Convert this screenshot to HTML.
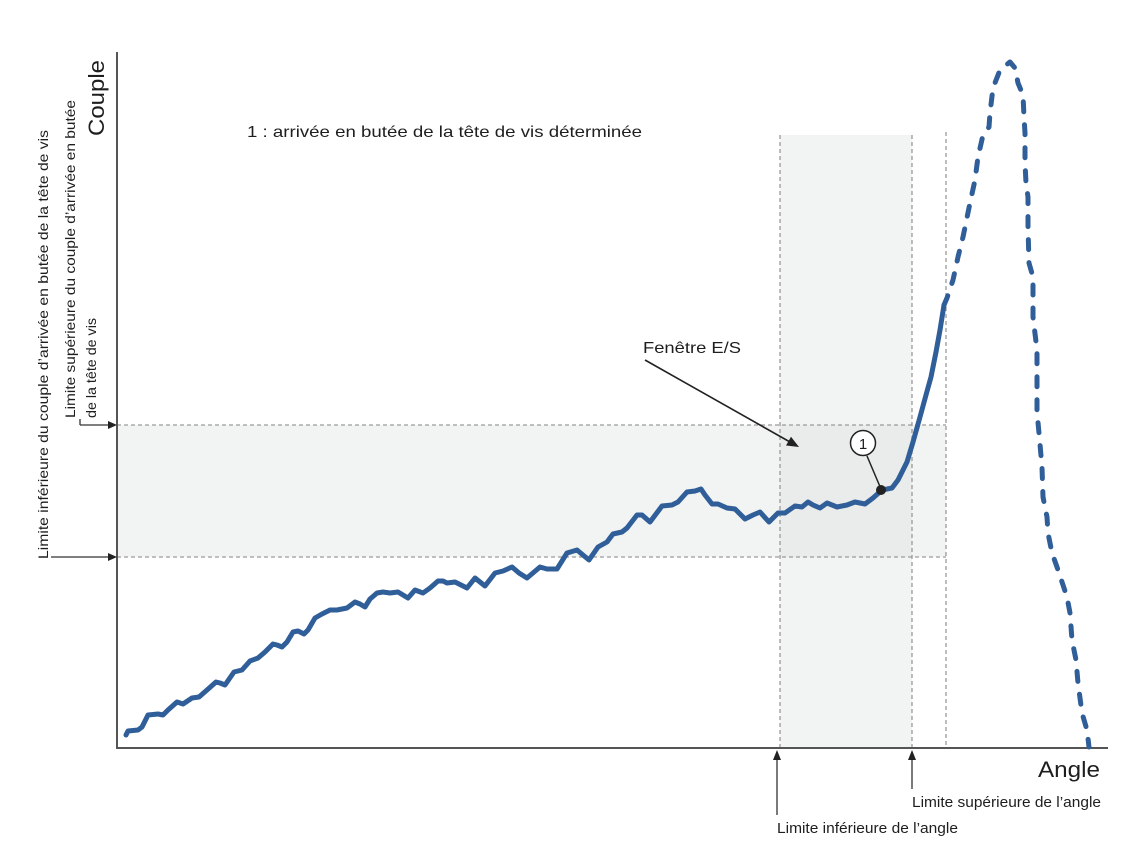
<!DOCTYPE html>
<html>
<head>
<meta charset="utf-8">
<style>
  html,body{margin:0;padding:0;background:#fff;}
  svg{display:block;}
  text{font-family:"Liberation Sans",Arial,sans-serif;fill:#1e1e1e;}
</style>
</head>
<body>
<svg width="1140" height="855" viewBox="0 0 1140 855" xmlns="http://www.w3.org/2000/svg">
  <rect x="0" y="0" width="1140" height="855" fill="#ffffff"/>

  <!-- bands -->
  <rect x="117" y="425" width="829" height="132" fill="#f2f3f3"/>
  <rect x="780" y="135" width="132" height="613" fill="#f2f3f3"/>
  <rect x="780" y="425" width="132" height="132" fill="#eaebeb"/>

  <!-- dashed guides -->
  <g stroke="#9a9a9a" stroke-width="1.3" stroke-dasharray="4 3" fill="none">
    <line x1="117" y1="425" x2="946" y2="425"/>
    <line x1="117" y1="557" x2="946" y2="557"/>
    <line x1="780" y1="135" x2="780" y2="748"/>
    <line x1="912" y1="135" x2="912" y2="748"/>
    <line x1="946" y1="132" x2="946" y2="748"/>
  </g>

  <!-- axes -->
  <g stroke="#555" stroke-width="2" fill="none">
    <line x1="117" y1="52" x2="117" y2="749"/>
    <line x1="116" y1="748" x2="1108" y2="748"/>
  </g>

  <!-- left arrows -->
  <g stroke="#333" stroke-width="1.3" fill="none">
    <line x1="80" y1="425" x2="109" y2="425"/>
    <line x1="80" y1="419" x2="80" y2="425"/>
    <line x1="51" y1="557" x2="109" y2="557"/>
  </g>
  <polygon points="117,425 108,421 108,429" fill="#222"/>
  <polygon points="117,557 108,553 108,561" fill="#222"/>

  <!-- bottom arrows -->
  <g stroke="#333" stroke-width="1.3" fill="none">
    <line x1="777" y1="758" x2="777" y2="815"/>
    <line x1="912" y1="758" x2="912" y2="789"/>
  </g>
  <polygon points="777,750 773,760 781,760" fill="#222"/>
  <polygon points="912,750 908,760 916,760" fill="#222"/>

  <!-- curve solid -->
  <polyline fill="none" stroke="#2f5e98" stroke-width="5" stroke-linejoin="round" stroke-linecap="round"
    points="126,735 128,731 138,730 142,727 148,715 158,714 163,715 168,710 177,702 183,704 192,698 199,697 207,690 216,682 220,683 225,685 234,672 242,670 250,661 258,658 265,652 273,644 277,645 282,647 287,642 293,632 298,631 304,634 308,630 315,618 322,614 330,610 337,610 347,608 355,602 360,604 365,607 370,599 377,593 383,592 390,593 398,592 403,595 408,598 415,590 423,593 430,588 438,581 443,581 447,583 455,582 467,588 475,578 485,586 495,573 503,571 512,567 519,573 527,578 540,567 547,569 557,569 567,553 577,550 589,560 598,547 607,542 613,534 622,532 627,528 637,515 642,515 650,522 662,506 672,505 678,502 687,492 695,491 701,489 705,495 712,504 718,504 727,508 735,509 745,519 753,515 760,512 769,522 778,513 785,513 795,506 802,507 808,502 813,505 820,508 827,503 837,507 847,505 855,502 865,504 873,498 882,490 892,488 898,480 907,462 913,442 920,417 926,395 931,377 936,352 940,330 944,305"/>

  <!-- curve dashed -->
  <polyline fill="none" stroke="#2f5e98" stroke-width="5" stroke-linejoin="round" stroke-linecap="round" stroke-dasharray="10 13"
    points="944,305 947,298 953,280 958,257 963,237 970,203 975,180 978,157 983,135 989,127 990,113 993,88 1000,70 1010,62 1015,68 1018,83 1023,95 1024,117 1025,133 1025,163 1026,183 1028,197 1028,227 1029,263 1033,277 1033,317 1037,350 1037,397 1037,412 1039,433 1042,467 1043,497 1047,517 1048,533 1052,553 1057,567 1062,582 1067,597 1070,613 1072,640 1076,660 1078,683 1082,713 1087,730 1089,747"/>

  <!-- annotation 1 -->
  <line x1="867" y1="456" x2="881" y2="489" stroke="#222" stroke-width="1.5"/>
  <circle cx="863" cy="443" r="12.5" fill="#fff" stroke="#222" stroke-width="1.5"/>
  <text x="863" y="449" font-size="15" text-anchor="middle">1</text>
  <circle cx="881" cy="490" r="5" fill="#222"/>

  <!-- Fenêtre arrow -->
  <line x1="645" y1="360" x2="790" y2="442" stroke="#222" stroke-width="1.6"/>
  <polygon points="799,447 786,445.5 791,436.7" fill="#222"/>

  <!-- texts -->
  <text x="247" y="137" font-size="16" textLength="395" lengthAdjust="spacingAndGlyphs">1 : arrivée en butée de la tête de vis déterminée</text>
  <text x="643" y="353" font-size="16" textLength="98" lengthAdjust="spacingAndGlyphs">Fenêtre E/S</text>
  <text x="1038" y="777" font-size="22" textLength="62" lengthAdjust="spacingAndGlyphs">Angle</text>
  <text x="912" y="807" font-size="15" textLength="189" lengthAdjust="spacingAndGlyphs">Limite supérieure de l’angle</text>
  <text x="777" y="833" font-size="15" textLength="181" lengthAdjust="spacingAndGlyphs">Limite inférieure de l’angle</text>

  <text transform="translate(104,136) rotate(-90)" font-size="22" textLength="76" lengthAdjust="spacingAndGlyphs">Couple</text>
  <text transform="translate(48,559) rotate(-90)" font-size="14" textLength="429" lengthAdjust="spacingAndGlyphs">Limite inférieure du couple d’arrivée en butée de la tête de vis</text>
  <text transform="translate(75,418) rotate(-90)" font-size="14" textLength="318" lengthAdjust="spacingAndGlyphs">Limite supérieure du couple d’arrivée en butée</text>
  <text transform="translate(96,418) rotate(-90)" font-size="14" textLength="100" lengthAdjust="spacingAndGlyphs">de la tête de vis</text>
</svg>
</body>
</html>
